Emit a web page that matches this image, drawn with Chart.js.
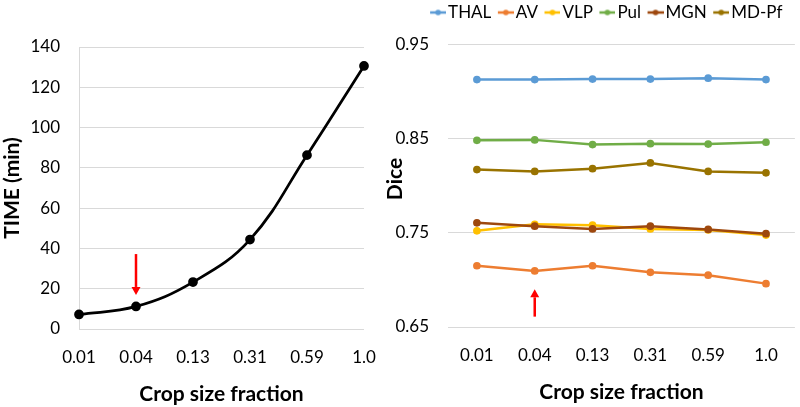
<!DOCTYPE html>
<html>
<head>
<meta charset="utf-8">
<script src="https://cdn.jsdelivr.net/npm/chart.js@4.4.1/dist/chart.umd.min.js"></script>
<style>
  html, body { margin:0; padding:0; background:#fff; overflow:hidden; }
  #wrap { position:relative; width:800px; height:407px; }
  #timeChart { position:absolute; left:0; top:0; }
  #diceChart { position:absolute; left:380px; top:0; }
</style>
</head>
<body>
<div id="wrap">
  <canvas id="timeChart" width="390" height="407"></canvas>
  <canvas id="diceChart" width="420" height="407"></canvas>
</div>
<script>
// ---- data
const cropFractions = ['0.01', '0.04', '0.13', '0.31', '0.59', '1.0'];
const timeMin = [7.2, 11.2, 23.3, 44.4, 86.3, 130.6];

const nucleiNames  = ['THAL', 'AV', 'VLP', 'Pul', 'MGN', 'MD-Pf'];
const nucleiColors = ['#5b9bd5', '#ed7d31', '#ffc000', '#70ad47', '#9e480e', '#997300'];
const diceTHAL = [0.9125, 0.9125, 0.913, 0.913, 0.914, 0.9125];
const diceAV   = [0.715, 0.7095, 0.715, 0.708, 0.705, 0.696];
const diceVLP  = [0.752, 0.759, 0.758, 0.754, 0.753, 0.7475];
const dicePul  = [0.848, 0.8485, 0.8435, 0.8445, 0.844, 0.846];
const diceMGN  = [0.7605, 0.757, 0.754, 0.757, 0.7535, 0.749];
const diceMDPf = [0.817, 0.815, 0.818, 0.824, 0.815, 0.8135];
const diceSeries = [diceTHAL, diceAV, diceVLP, dicePul, diceMGN, diceMDPf];

const timeTicks = [0, 20, 40, 60, 80, 100, 120, 140];
const diceTicks = [0.65, 0.75, 0.85, 0.95];

// red arrows, in data units (category index, start value, tip value)
const timeArrow = { idx: 1, from: 37.2, tip: 16.9 };
const diceArrow = { idx: 1, from: 0.661, tip: 0.690 };

Chart.defaults.font.family = 'Lato, "Open Sans", sans-serif';
Chart.defaults.color = '#000';

const GRID = '#d9d9d9';
const tickFont  = { size: 17 };
const titleFont = { size: 21, weight: 'bold' };

const redArrow = (arrow) => ({
  id: 'redArrow',
  afterDatasetsDraw(chart) {
    const { ctx, scales: { x, y } } = chart;
    const px = x.getPixelForValue(arrow.idx);
    const y0 = y.getPixelForValue(arrow.from);
    const y1 = y.getPixelForValue(arrow.tip);
    const dir = y1 > y0 ? 1 : -1;
    const head = 8;
    ctx.save();
    ctx.strokeStyle = '#ff0000';
    ctx.fillStyle = '#ff0000';
    ctx.lineWidth = 2.5;
    ctx.beginPath();
    ctx.moveTo(px, y0);
    ctx.lineTo(px, y1 - dir * head);
    ctx.stroke();
    ctx.beginPath();
    ctx.moveTo(px, y1);
    ctx.lineTo(px - 4.5, y1 - dir * head);
    ctx.lineTo(px + 4.5, y1 - dir * head);
    ctx.closePath();
    ctx.fill();
    ctx.restore();
  }
});

// legend sits centred a bit to the right of the canvas middle
const legendShift = {
  id: 'legendShift',
  afterLayout(chart) {
    if (!chart.legend) return;
    chart.legend.left += 10;
    chart.legend.right += 10;
  }
};

// ---- left : time
new Chart(document.getElementById('timeChart').getContext('2d'), {
  type: 'line',
  data: {
    labels: cropFractions,
    datasets: [{
      data: timeMin,
      borderColor: '#000',
      backgroundColor: '#000',
      borderWidth: 2.75,
      pointRadius: 3.5,
      pointHoverRadius: 3.5,
      tension: 0.4
    }]
  },
  options: {
    responsive: false,
    animation: false,
    layout: { padding: { top: 47, right: 26, left: 0, bottom: 0 } },
    plugins: { legend: { display: false }, tooltip: { enabled: false } },
    scales: {
      x: {
        offset: false,
        grid: { display: false },
        border: { display: false },
        ticks: { font: tickFont, padding: 10, maxRotation: 0 },
        title: { display: true, text: 'Crop size fraction', font: titleFont, padding: { top: 0, bottom: 0 } },
        afterFit: s => { s.height = 78; }
      },
      y: {
        min: 0, max: 140,
        afterBuildTicks: s => { s.ticks = timeTicks.map(v => ({ value: v })); },
        grid: { color: GRID, lineWidth: 1, drawTicks: false },
        border: { display: true, color: GRID, width: 1 },
        ticks: { font: tickFont, padding: 19 },
        title: { display: true, text: 'TIME (min)', font: titleFont, padding: { top: 0, bottom: 0 } },
        afterFit: s => { s.width = 79; }
      }
    }
  },
  plugins: [redArrow(timeArrow)]
});

// ---- right : dice
const legendMarks = nucleiColors.map(col => {
  const c = document.createElement('canvas');
  c.width = 25; c.height = 8;
  const g = c.getContext('2d');
  g.strokeStyle = col; g.fillStyle = col; g.lineWidth = 2.5;
  g.beginPath(); g.moveTo(9, 4); g.lineTo(25, 4); g.stroke();
  g.beginPath(); g.arc(17, 4, 2.8, 0, Math.PI * 2); g.fill();
  return c;
});

new Chart(document.getElementById('diceChart').getContext('2d'), {
  type: 'line',
  data: {
    labels: cropFractions,
    datasets: nucleiNames.map((name, i) => ({
      label: name,
      data: diceSeries[i],
      borderColor: nucleiColors[i],
      backgroundColor: nucleiColors[i],
      borderWidth: 2.5,
      pointRadius: 2.6,
      pointHoverRadius: 2.6,
      tension: 0,
      order: -i
    }))
  },
  options: {
    responsive: false,
    animation: false,
    layout: { padding: { top: 0, right: 2, left: 12, bottom: 0 } },
    plugins: {
      tooltip: { enabled: false },
      legend: {
        position: 'top',
        labels: {
          font: { size: 17 },
          usePointStyle: true,
          pointStyleWidth: 12,
          padding: 4,
          sort: (a, b) => a.datasetIndex - b.datasetIndex,
          generateLabels(chart) {
            const items = Chart.defaults.plugins.legend.labels.generateLabels(chart);
            items.forEach(it => { it.pointStyle = legendMarks[it.datasetIndex]; });
            return items;
          }
        }
      }
    },
    scales: {
      x: {
        offset: true,
        grid: { display: false },
        border: { display: false },
        ticks: { font: tickFont, padding: 10, maxRotation: 0 },
        title: { display: true, text: 'Crop size fraction', font: titleFont, padding: { top: 0, bottom: 2 } },
        afterFit: s => { s.height = 80; }
      },
      y: {
        min: 0.65, max: 0.964,
        afterBuildTicks: s => { s.ticks = diceTicks.map(v => ({ value: v })); },
        grid: { color: GRID, lineWidth: 1, drawTicks: false },
        border: { display: false },
        ticks: { font: tickFont, padding: 19, callback: v => v.toFixed(2) },
        title: { display: true, text: 'Dice', font: titleFont, padding: { top: -9, bottom: 0 } },
        afterFit: s => { s.width = 56; }
      }
    }
  },
  plugins: [redArrow(diceArrow), legendShift]
});
</script>
</body>
</html>
